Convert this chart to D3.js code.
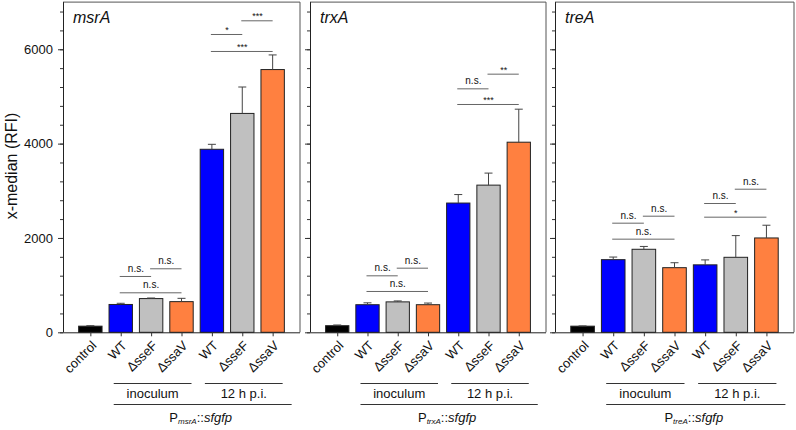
<!DOCTYPE html>
<html>
<head>
<meta charset="utf-8">
<script src="https://cdn.jsdelivr.net/npm/d3@7"></script>
<style>
  body { margin: 0; background: #fff; }
  svg text { font-family: Arial, "Liberation Sans", sans-serif; fill: #111; }
</style>
</head>
<body>
<div id="chart"></div>
<script>
// categories (keys are unique, labels shown under the ticks)
var catKeys = ["control", "wtInoc", "sseFInoc", "ssaVInoc", "wt12", "sseF12", "ssaV12"];
var catLabels = ["control", "WT", "\u0394sseF", "\u0394ssaV", "WT", "\u0394sseF", "\u0394ssaV"];
var catColors = ["#000000", "#0000ff", "#c0c0c0", "#ff8040", "#0000ff", "#c0c0c0", "#ff8040"];
var groupLabels = ["inoculum", "12 h p.i."];

var genes = ["msrA", "trxA", "treA"];

// x-median (RFI), mean and error
var msrAMeans = [130, 590, 715, 650, 3880, 4640, 5570];
var msrAErr   = [10, 25, 12, 70, 105, 560, 310];
var trxAMeans = [140, 585, 645, 585, 2740, 3120, 4030];
var trxAErr   = [15, 40, 20, 35, 180, 255, 700];
var treAMeans = [130, 1540, 1760, 1370, 1430, 1590, 2000];
var treAErr   = [5, 55, 60, 105, 105, 460, 270];

// significance brackets: [from index, to index, height (RFI), label]
var msrASig = [[1, 2, 1194, "n.s."], [2, 3, 1357, "n.s."], [1, 3, 848, "n.s."],
               [4, 5, 6324, "*"], [5, 6, 6614, "***"], [4, 6, 5964, "***"]];
var trxASig = [[1, 2, 1208, "n.s."], [2, 3, 1370, "n.s."], [1, 3, 876, "n.s."],
               [4, 5, 5172, "n.s."], [5, 6, 5483, "**"], [4, 6, 4840, "***"]];
var treASig = [[1, 2, 2324, "n.s."], [2, 3, 2472, "n.s."], [1, 3, 1985, "n.s."],
               [4, 5, 2741, "n.s."], [5, 6, 3044, "n.s."], [4, 6, 2451, "*"]];

var yMax = 7000;
var majorTicks = [0, 2000, 4000, 6000];
var minorTicks = d3.range(0, yMax, 400);

var W = 796, H = 430;
var top_ = 2.1, bottom = 332.3;

var svg = d3.select("#chart").append("svg")
    .attr("width", W)
    .attr("height", H);

var y = d3.scaleLinear()
    .domain([0, yMax])
    .range([bottom, top_]);

function panel(vals) {
    var {gene, means, errs, sig, left, right, showLabels} = vals;

    var x = d3.scalePoint()
        .domain(catKeys)
        .range([left, right])
        .padding(0.9);
    var bw = x.step() * 0.77;

    var g = svg.append("g");

    // frame top + right
    g.append("path")
        .attr("d", "M" + left + "," + top_ + "H" + right + "V" + bottom)
        .attr("fill", "none")
        .attr("stroke", "#555")
        .attr("stroke-width", 1);

    // bars
    g.selectAll("rect.bar")
        .data(catKeys)
        .enter()
        .append("rect")
        .attr("class", "bar")
        .attr("x", d => x(d) - bw / 2)
        .attr("y", (d, i) => y(means[i]))
        .attr("width", bw)
        .attr("height", (d, i) => bottom - y(means[i]))
        .attr("fill", (d, i) => catColors[i])
        .attr("stroke", "#222")
        .attr("stroke-width", 1);

    // error bars (upper only)
    var eb = g.selectAll("g.err")
        .data(catKeys)
        .enter()
        .append("g")
        .attr("class", "err");
    eb.append("line")
        .attr("x1", d => x(d)).attr("x2", d => x(d))
        .attr("y1", (d, i) => y(means[i]))
        .attr("y2", (d, i) => y(means[i] + errs[i]))
        .attr("stroke", "#444");
    eb.append("line")
        .attr("x1", d => x(d) - 4).attr("x2", d => x(d) + 4)
        .attr("y1", (d, i) => y(means[i] + errs[i]))
        .attr("y2", (d, i) => y(means[i] + errs[i]))
        .attr("stroke", "#444");

    // y axis: minor + major ticks
    var minor = g.append("g")
        .attr("transform", "translate(" + left + ",0)")
        .call(d3.axisLeft(y).tickValues(minorTicks).tickSize(3).tickFormat(""));
    minor.select(".domain").remove();
    minor.selectAll("line").attr("stroke", "#333");

    var major = g.append("g")
        .attr("transform", "translate(" + left + ",0)")
        .call(d3.axisLeft(y).tickValues(majorTicks).tickSize(5).tickPadding(5)
            .tickFormat(showLabels ? d3.format("d") : ""));
    major.select(".domain").attr("stroke", "#222").attr("d", "M0.5," + top_ + "V" + bottom);
    major.selectAll("line").attr("stroke", "#333");
    major.selectAll("text")
        .style("font-size", "13px")
        .style("font-family", "Arial, 'Liberation Sans', sans-serif")
        .attr("fill", "#111");

    // x axis
    var xa = g.append("g")
        .attr("transform", "translate(0," + bottom + ")")
        .call(d3.axisBottom(x).tickSize(4).tickFormat(""));
    xa.select(".domain").attr("stroke", "#222").attr("d", "M" + left + ",0.5H" + right);
    xa.selectAll("line").attr("stroke", "#333");

    g.selectAll("text.xl")
        .data(catKeys)
        .enter()
        .append("text")
        .attr("class", "xl")
        .attr("text-anchor", "end")
        .attr("transform", d => "translate(" + (x(d) + 7) + "," + (bottom + 14) + ") rotate(-45)")
        .style("font-size", "13px")
        .text((d, i) => catLabels[i]);

    // gene title
    g.append("text")
        .attr("x", left + 10)
        .attr("y", 23)
        .style("font-size", "16px")
        .style("font-style", "italic")
        .text(gene);

    // significance brackets
    var s = g.selectAll("g.sig")
        .data(sig)
        .enter()
        .append("g")
        .attr("class", "sig");
    s.append("line")
        .attr("x1", d => x(catKeys[d[0]]) - 1)
        .attr("x2", d => x(catKeys[d[1]]))
        .attr("y1", d => y(d[2]) + 0.5)
        .attr("y2", d => y(d[2]) + 0.5)
        .attr("stroke", "#666")
        .attr("stroke-width", 1);
    s.append("text")
        .attr("x", d => (x(catKeys[d[0]]) + x(catKeys[d[1]])) / 2)
        .attr("y", d => y(d[2]) - (d[3] == "n.s." ? 4 : 1))
        .attr("text-anchor", "middle")
        .style("font-size", d => d[3] == "n.s." ? "10px" : "9px")
        .attr("fill", "#333")
        .text(d => d[3]);

    // group lines and labels
    var groups = [[1, 3], [4, 6]];
    groups.forEach(function (gr, k) {
        var x0 = x(catKeys[gr[0]]) - 7, x1 = x(catKeys[gr[1]]) + 10;
        g.append("line")
            .attr("x1", x0).attr("x2", x1)
            .attr("y1", 383.5).attr("y2", 383.5)
            .attr("stroke", "#333");
        g.append("text")
            .attr("x", (x0 + x1) / 2)
            .attr("y", 398)
            .attr("text-anchor", "middle")
            .style("font-size", "13px")
            .text(groupLabels[k]);
    });
    var lx0 = x(catKeys[1]) - 7, lx1 = x(catKeys[6]) + 19;
    g.append("line")
        .attr("x1", lx0).attr("x2", lx1)
        .attr("y1", 404.5).attr("y2", 404.5)
        .attr("stroke", "#333");

    var pl = g.append("text")
        .attr("x", (lx0 + lx1) / 2 - 2)
        .attr("y", 422)
        .attr("text-anchor", "middle")
        .style("font-size", "13px");
    pl.append("tspan").text("P");
    pl.append("tspan")
        .attr("dy", 2)
        .style("font-size", "8px")
        .style("font-style", "italic")
        .text(gene);
    pl.append("tspan")
        .attr("dy", -2)
        .text("::");
    pl.append("tspan")
        .style("font-style", "italic")
        .text("sfgfp");
}

panel({gene: genes[0], means: msrAMeans, errs: msrAErr, sig: msrASig, left: 63, right: 300, showLabels: true});
panel({gene: genes[1], means: trxAMeans, errs: trxAErr, sig: trxASig, left: 310, right: 546, showLabels: false});
panel({gene: genes[2], means: treAMeans, errs: treAErr, sig: treASig, left: 555, right: 794, showLabels: false});

// y axis title
svg.append("text")
    .attr("transform", "translate(17,166) rotate(-90)")
    .attr("text-anchor", "middle")
    .style("font-size", "16px")
    .text("x-median (RFI)");
</script>
</body>
</html>
